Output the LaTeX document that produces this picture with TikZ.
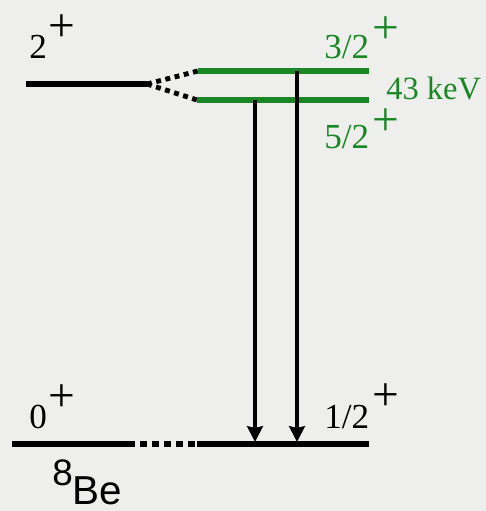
\documentclass[tikz,border=0pt]{standalone}
\usepackage{fontspec}
\setmainfont{Liberation Serif}
\newfontfamily\arialfont{Liberation Sans}
\usetikzlibrary{arrows.meta}
\definecolor{levelgreen}{RGB}{25,135,35}
\definecolor{paper}{RGB}{238,238,237}

\begin{document}
\begin{tikzpicture}[x=0.02cm,y=-0.02cm,
		level/.style={line width=3pt},
		split/.style={line width=2.8pt,dash pattern=on 2.8pt off 2.6pt},
		gamma/.style={line width=2pt,-{Stealth[length=9pt,width=9pt,inset=1pt]}},
		spin/.style={anchor=base west,inner sep=0pt,font=\fontsize{20}{20}\selectfont},
		parity/.style={inner sep=0pt,font=\fontsize{27}{27}\selectfont}]
			\fill[paper] (0,0) rectangle (486,511);
			\useasboundingbox (0,0) rectangle (486,511);
			% 8Be levels
			\coordinate (be2l) at (26,84);
			\coordinate (be2r) at (147,84);
			\coordinate (be0l) at (12,444);
			\coordinate (be0r) at (128,444);
			% split levels
			\coordinate (upl) at (198,71);
			\coordinate (upr) at (369,71);
			\coordinate (lol) at (197,100);
			\coordinate (lor) at (369,100);
			\coordinate (gsl) at (197,444);
			\coordinate (gsr) at (369,444);
			\draw[level] (be2l) -- (be2r);
			\draw[level] (be0l) -- (be0r);
			\draw[level,dash pattern=on 4pt off 2.8pt] (be0r) -- (gsl);
			\draw[level] (gsl) -- (gsr);
			\draw[split] (be2r) -- (upl);
			\draw[split] (be2r) -- (lol);
			\draw[level,levelgreen] (upl) -- (upr);
			\draw[level,levelgreen] (lol) -- (lor);
			% transitions
			\coordinate (t1) at (255,100);
			\coordinate (t1e) at (255,442);
			\coordinate (t2) at (297,71);
			\coordinate (t2e) at (297,442);
			\draw[gamma] (t1) -- (t1e);
			\draw[gamma] (t2) -- (t2e);
			% labels
			\node[spin] (j2) at (29,58) {2};
			\node[parity] (p2) at (62,28) {+};
			\node[spin,text=levelgreen] (j32) at (324,58) {3/2};
			\node[parity,text=levelgreen] (p32) at (386,30) {+};
			\node[spin,text=levelgreen,font=\fontsize{18.5}{18.5}\selectfont] (gap) at (386,99) {43 keV};
			\node[spin,text=levelgreen] (j52) at (324,148) {5/2};
			\node[parity,text=levelgreen] (p52) at (386,122) {+};
			\node[spin] (j0) at (29,428) {0};
			\node[parity] (p0) at (62,398) {+};
			\node[spin] (j12) at (324,428) {1/2};
			\node[parity] (p12) at (386,397) {+};
			\node[anchor=base west,inner sep=0pt,font=\arialfont\fontsize{23}{23}\selectfont] (nuc) at (52,504) {{\fontsize{21}{21}\selectfont\raisebox{10.5pt}{8}}Be};
\end{tikzpicture}
\end{document}
